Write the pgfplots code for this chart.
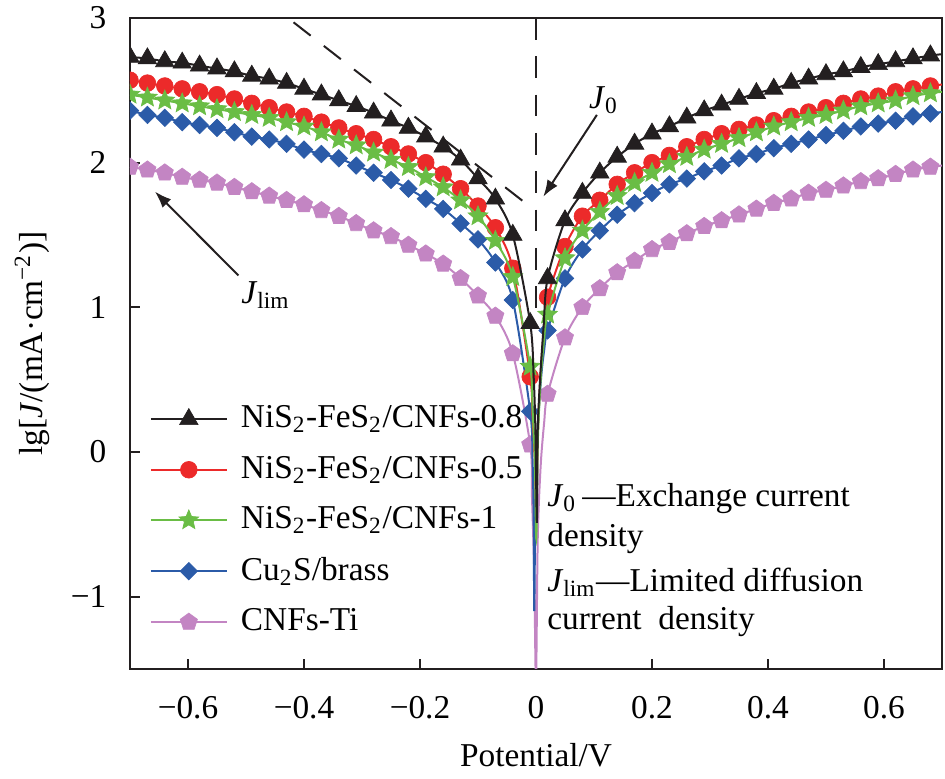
\documentclass[border=0pt]{standalone}
\usepackage{fontspec}
\setmainfont{Liberation Serif}
\usepackage{pgfplots}
\usepackage{pgfplotstable}
\pgfplotsset{compat=1.18}
\usetikzlibrary{arrows.meta}
\definecolor{cK}{HTML}{231F20}
\definecolor{cR}{HTML}{EC2A2A}
\definecolor{cG}{HTML}{6ABD45}
\definecolor{cB}{HTML}{2B5BA8}
\definecolor{cP}{HTML}{C385C3}

\pgfdeclareplotmark{fstar}{%
 \pgfpathmoveto{\pgfpointpolar{90}{\pgfplotmarksize}}%
 \pgfpathlineto{\pgfpointpolar{126}{0.45\pgfplotmarksize}}%
 \pgfpathlineto{\pgfpointpolar{162}{\pgfplotmarksize}}%
 \pgfpathlineto{\pgfpointpolar{198}{0.45\pgfplotmarksize}}%
 \pgfpathlineto{\pgfpointpolar{234}{\pgfplotmarksize}}%
 \pgfpathlineto{\pgfpointpolar{270}{0.45\pgfplotmarksize}}%
 \pgfpathlineto{\pgfpointpolar{306}{\pgfplotmarksize}}%
 \pgfpathlineto{\pgfpointpolar{342}{0.45\pgfplotmarksize}}%
 \pgfpathlineto{\pgfpointpolar{18}{\pgfplotmarksize}}%
 \pgfpathlineto{\pgfpointpolar{54}{0.45\pgfplotmarksize}}%
 \pgfpathclose\pgfusepathqfillstroke}

\pgfplotsset{
 serK/.style={color=cK, line width=0.6pt, mark=triangle*, mark size=3.2pt, mark options={solid, fill=cK, draw=cK, line width=0.2pt}},
 serR/.style={color=cR, line width=0.6pt, mark=*, mark size=2.5pt, mark options={solid, fill=cR, draw=cR, line width=0.2pt}},
 serG/.style={color=cG, line width=0.6pt, mark=fstar, mark size=3.1pt, mark options={solid, fill=cG, draw=cG, line width=0.2pt}},
 serB/.style={color=cB, line width=0.6pt, mark=square*, mark size=1.85pt, mark options={solid, fill=cB, draw=cB, rotate=45, line width=0.2pt}},
 serP/.style={color=cP, line width=0.6pt, mark=pentagon*, mark size=2.7pt, mark options={solid, fill=cP, draw=cP, line width=0.2pt}},
}

% x  lg J   (NiS2-FeS2/CNFs-0.8)
\pgfplotstableread{
x y
-0.70 2.73
-0.67 2.72
-0.64 2.70
-0.61 2.69
-0.58 2.67
-0.55 2.65
-0.52 2.63
-0.49 2.60
-0.46 2.58
-0.43 2.55
-0.40 2.51
-0.37 2.47
-0.34 2.43
-0.31 2.39
-0.28 2.345
-0.25 2.29
-0.22 2.24
-0.19 2.18
-0.16 2.11
-0.13 2.02
-0.10 1.89
-0.07 1.75
-0.04 1.50
-0.01 0.89
-0.004 0.52
-0.001 0.15
0.0015 -0.49
0.003 0.15
0.007 0.50
0.013 0.86
0.02 1.20
0.05 1.60
0.08 1.79
0.11 1.93
0.14 2.04
0.17 2.13
0.20 2.20
0.23 2.25
0.26 2.31
0.29 2.36
0.32 2.40
0.35 2.44
0.38 2.48
0.41 2.51
0.44 2.55
0.47 2.58
0.50 2.61
0.53 2.63
0.56 2.66
0.59 2.68
0.62 2.70
0.65 2.72
0.68 2.74
0.70 2.75
}\tK

% NiS2-FeS2/CNFs-0.5
\pgfplotstableread{
x y
-0.70 2.57
-0.67 2.55
-0.64 2.53
-0.61 2.51
-0.58 2.49
-0.55 2.47
-0.52 2.44
-0.49 2.41
-0.46 2.38
-0.43 2.35
-0.40 2.32
-0.37 2.28
-0.34 2.24
-0.31 2.20
-0.28 2.16
-0.25 2.11
-0.22 2.06
-0.19 2.00
-0.16 1.92
-0.13 1.82
-0.10 1.70
-0.07 1.55
-0.04 1.27
-0.01 0.52
-0.006 0.25
-0.002 -0.05
0.0005 -0.40
0.003 0.10
0.008 0.55
0.014 0.85
0.02 1.07
0.05 1.42
0.08 1.63
0.11 1.74
0.14 1.85
0.17 1.93
0.20 2.00
0.23 2.05
0.26 2.11
0.29 2.16
0.32 2.20
0.35 2.23
0.38 2.26
0.41 2.29
0.44 2.32
0.47 2.35
0.50 2.38
0.53 2.41
0.56 2.44
0.59 2.46
0.62 2.49
0.65 2.51
0.68 2.53
0.70 2.54
}\tR

% NiS2-FeS2/CNFs-1
\pgfplotstableread{
x y
-0.70 2.47
-0.67 2.45
-0.64 2.43
-0.61 2.41
-0.58 2.39
-0.55 2.37
-0.52 2.35
-0.49 2.33
-0.46 2.31
-0.43 2.28
-0.40 2.25
-0.37 2.21
-0.34 2.16
-0.31 2.12
-0.28 2.07
-0.25 2.02
-0.22 1.97
-0.19 1.90
-0.16 1.83
-0.13 1.74
-0.10 1.63
-0.07 1.46
-0.04 1.21
-0.01 0.59
-0.006 0.30
-0.002 -0.05
0.0005 -0.60
0.003 0.05
0.008 0.50
0.014 0.78
0.02 0.95
0.05 1.34
0.08 1.53
0.11 1.66
0.14 1.77
0.17 1.86
0.20 1.93
0.23 1.99
0.26 2.04
0.29 2.09
0.32 2.13
0.35 2.17
0.38 2.21
0.41 2.25
0.44 2.28
0.47 2.31
0.50 2.33
0.53 2.36
0.56 2.39
0.59 2.41
0.62 2.43
0.65 2.46
0.68 2.48
0.70 2.49
}\tG

% Cu2S/brass
\pgfplotstableread{
x y
-0.70 2.36
-0.67 2.33
-0.64 2.31
-0.61 2.28
-0.58 2.26
-0.55 2.24
-0.52 2.21
-0.49 2.18
-0.46 2.16
-0.43 2.13
-0.40 2.09
-0.37 2.06
-0.34 2.03
-0.31 1.98
-0.28 1.93
-0.25 1.88
-0.22 1.82
-0.19 1.75
-0.16 1.68
-0.13 1.58
-0.10 1.47
-0.07 1.31
-0.04 1.05
-0.01 0.28
-0.006 -0.05
-0.004 -0.45
-0.003 -1.10
-0.001 -0.35
0.003 0.15
0.009 0.52
0.014 0.70
0.02 0.84
0.05 1.20
0.08 1.40
0.11 1.53
0.14 1.64
0.17 1.72
0.20 1.79
0.23 1.85
0.26 1.89
0.29 1.94
0.32 1.98
0.35 2.03
0.38 2.06
0.41 2.10
0.44 2.13
0.47 2.16
0.50 2.19
0.53 2.22
0.56 2.25
0.59 2.27
0.62 2.29
0.65 2.32
0.68 2.34
0.70 2.35
}\tB

% CNFs-Ti
\pgfplotstableread{
x y
-0.70 1.97
-0.67 1.95
-0.64 1.93
-0.61 1.90
-0.58 1.88
-0.55 1.86
-0.52 1.83
-0.49 1.80
-0.46 1.77
-0.43 1.74
-0.40 1.71
-0.37 1.67
-0.34 1.63
-0.31 1.58
-0.28 1.53
-0.25 1.49
-0.22 1.43
-0.19 1.37
-0.16 1.30
-0.13 1.20
-0.10 1.08
-0.07 0.94
-0.04 0.68
-0.01 0.05
-0.007 -0.30
-0.003 -0.85
0.0 -1.60
0.003 -0.60
0.008 -0.10
0.014 0.20
0.02 0.40
0.05 0.79
0.08 1.00
0.11 1.13
0.14 1.24
0.17 1.32
0.20 1.40
0.23 1.45
0.26 1.51
0.29 1.56
0.32 1.60
0.35 1.64
0.38 1.68
0.41 1.72
0.44 1.75
0.47 1.79
0.50 1.81
0.53 1.84
0.56 1.87
0.59 1.89
0.62 1.92
0.65 1.95
0.68 1.97
0.70 1.98
}\tP

\begin{document}
\begin{tikzpicture}[font=\fontsize{10}{12}\selectfont]
\begin{axis}[
 scale only axis, width=243.6pt, height=195.3pt,
 xmin=-0.7, xmax=0.7, ymin=-1.5, ymax=3,
 axis line style={line width=0.6pt, cK},
 tick align=inside, xtick pos=bottom, ytick pos=left,
 xtick={-0.6,-0.4,-0.2,0,0.2,0.4,0.6},
 xticklabels={−0.6,−0.4,−0.2,0,0.2,0.4,0.6},
 ytick={-1,0,1,2,3}, yticklabels={−1,0,1,2,3},
 major tick length=3pt,
 tick style={line width=0.6pt, cK},
 xticklabel style={yshift=-4.8pt},
 yticklabel style={xshift=-3.6pt},
 tick label style={font=\fontsize{10}{12}\selectfont},
 label style={font=\fontsize{10}{12}\selectfont},
 xlabel={Potential/V},
 xlabel style={at={(axis description cs:0.5,-0.132)}, anchor=center},
 ylabel={lg[\textit{J}/(mA·cm\textsuperscript{−2})]},
 ylabel style={at={(axis description cs:-0.1207,0.5)}, anchor=center},
 clip marker paths=true,
 legend image code/.code={\draw[mark repeat=2,mark phase=2,#1] plot coordinates {(0pt,0pt) (11.35pt,0pt) (22.7pt,0pt)};},
 legend cell align=left,
 legend style={at={(axis description cs:0.0238,0.4106)}, anchor=north west, draw=none, fill=none, inner sep=0pt, row sep=5pt, column sep=3pt, nodes={inner sep=1pt}, font=\fontsize{10}{12}\selectfont},
]
\addlegendimage{serK}\addlegendentry{NiS\textsubscript{2}-FeS\textsubscript{2}/CNFs-0.8}
\addlegendimage{serR}\addlegendentry{NiS\textsubscript{2}-FeS\textsubscript{2}/CNFs-0.5}
\addlegendimage{serG}\addlegendentry{NiS\textsubscript{2}-FeS\textsubscript{2}/CNFs-1}
\addlegendimage{serB}\addlegendentry{Cu\textsubscript{2}S/brass}
\addlegendimage{serP}\addlegendentry{CNFs-Ti}

% CNFs-Ti
\addplot[serP, mark=none, smooth, forget plot] table {\tP};
\addplot[serP, only marks, forget plot, restrict x to domain=-0.75:-0.009] table {\tP};
\addplot[serP, only marks, forget plot, restrict x to domain=0.015:0.69] table {\tP};
% Cu2S/brass
\addplot[serB, mark=none, smooth, forget plot] table {\tB};
\addplot[serB, only marks, forget plot, restrict x to domain=-0.75:-0.009] table {\tB};
\addplot[serB, only marks, forget plot, restrict x to domain=0.015:0.69] table {\tB};
% -0.5
\addplot[serR, mark=none, smooth, forget plot] table {\tR};
\addplot[serR, only marks, forget plot, restrict x to domain=-0.75:-0.009] table {\tR};
\addplot[serR, only marks, forget plot, restrict x to domain=0.015:0.69] table {\tR};
% -1
\addplot[serG, mark=none, smooth, forget plot] table {\tG};
\addplot[serG, only marks, forget plot, restrict x to domain=-0.75:-0.009] table {\tG};
\addplot[serG, only marks, forget plot, restrict x to domain=0.015:0.69] table {\tG};
% -0.8
\addplot[serK, mark=none, smooth, forget plot] table {\tK};
\addplot[serK, only marks, forget plot, restrict x to domain=-0.75:-0.009] table {\tK};
\addplot[serK, only marks, forget plot, restrict x to domain=0.015:0.69] table {\tK};

% guide lines and annotations
\draw[cK, line width=0.6pt, dash pattern=on 6.5pt off 5pt] (axis cs:-0.418,2.97) -- (axis cs:-0.002,1.67);
\draw[cK, line width=0.6pt, dash pattern=on 6.5pt off 5pt] (axis cs:0,3) -- (axis cs:0,0.9);
\draw[cK, line width=0.6pt, -{Latex[length=5pt,width=3.6pt]}] (axis cs:-0.513,1.22) -- (axis cs:-0.657,1.80);
\draw[cK, line width=0.6pt, -{Latex[length=5pt,width=3.6pt]}] (axis cs:0.105,2.33) -- (axis cs:0.0126,1.765);
\node at (axis cs:-0.466,1.085) {\textit{J}\textsubscript{lim}};
\node at (axis cs:0.117,2.43) {\textit{J}\textsubscript{0}};
\node[anchor=base west, inner sep=0pt] at (axis cs:0.0184,-0.378) {\textit{J}\textsubscript{0}\,—Exchange current};
\node[anchor=base west, inner sep=0pt] at (axis cs:0.0184,-0.65) {density};
\node[anchor=base west, inner sep=0pt] at (axis cs:0.0184,-0.965) {\textit{J}\textsubscript{lim}—Limited diffusion};
\node[anchor=base west, inner sep=0pt] at (axis cs:0.0184,-1.23) {current\ \ density};
\end{axis}
\pgfresetboundingbox
\useasboundingbox ([shift={(-39pt,-33pt)}]current axis.south west) rectangle ([shift={(0.9pt,5.4pt)}]current axis.north east);
\end{tikzpicture}
\end{document}
